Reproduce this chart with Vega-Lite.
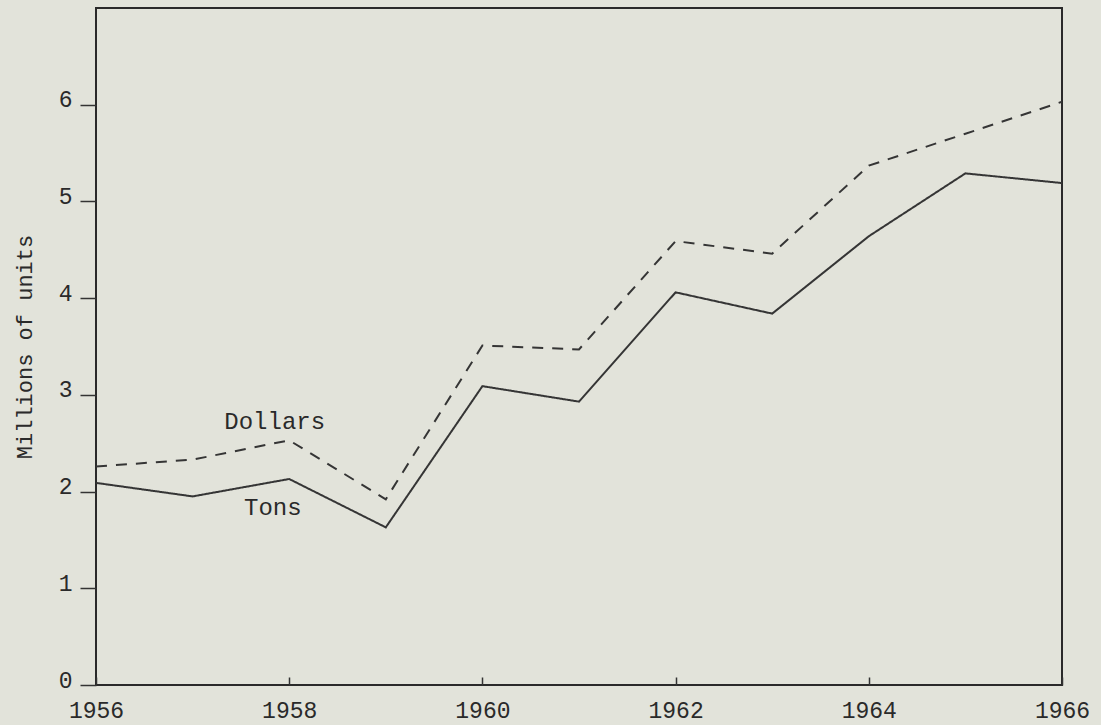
{
  "$schema": "https://vega.github.io/schema/vega-lite/v6.json",
  "autosize": "none",
  "width": 966,
  "height": 677,
  "padding": {"left": 96, "top": 8, "right": 39, "bottom": 40},
  "background": "#e2e3da",
  "config": {
    "view": {"stroke": "#2a2a2a", "strokeWidth": 2},
    "font": "Liberation Mono"
  },
  "datasets": {
    "series": [
      {"year": 1956, "value": 2.09, "series": "Tons"},
      {"year": 1957, "value": 1.95, "series": "Tons"},
      {"year": 1958, "value": 2.13, "series": "Tons"},
      {"year": 1959, "value": 1.63, "series": "Tons"},
      {"year": 1960, "value": 3.09, "series": "Tons"},
      {"year": 1961, "value": 2.93, "series": "Tons"},
      {"year": 1962, "value": 4.06, "series": "Tons"},
      {"year": 1963, "value": 3.84, "series": "Tons"},
      {"year": 1964, "value": 4.64, "series": "Tons"},
      {"year": 1965, "value": 5.29, "series": "Tons"},
      {"year": 1966, "value": 5.19, "series": "Tons"},
      {"year": 1956, "value": 2.26, "series": "Dollars"},
      {"year": 1957, "value": 2.33, "series": "Dollars"},
      {"year": 1958, "value": 2.53, "series": "Dollars"},
      {"year": 1959, "value": 1.92, "series": "Dollars"},
      {"year": 1960, "value": 3.51, "series": "Dollars"},
      {"year": 1961, "value": 3.47, "series": "Dollars"},
      {"year": 1962, "value": 4.59, "series": "Dollars"},
      {"year": 1963, "value": 4.46, "series": "Dollars"},
      {"year": 1964, "value": 5.37, "series": "Dollars"},
      {"year": 1965, "value": 5.70, "series": "Dollars"},
      {"year": 1966, "value": 6.03, "series": "Dollars"}
    ],
    "labels": [
      {"year": 1957.85, "value": 2.72, "label": "Dollars"},
      {"year": 1957.83, "value": 1.83, "label": "Tons"}
    ]
  },
  "layer": [
    {
      "data": {"name": "series"},
      "mark": {"type": "line", "color": "#353535", "strokeWidth": 2},
      "encoding": {
        "x": {
          "field": "year", "type": "quantitative",
          "scale": {"domain": [1956, 1966], "nice": false, "zero": false},
          "axis": {
            "values": [1956, 1958, 1960, 1962, 1964, 1966],
            "format": "d", "title": null, "grid": false, "domain": false,
            "ticks": true, "tickSize": -8, "tickColor": "#333333", "tickWidth": 1.5,
            "labelFont": "Liberation Mono", "labelFontSize": 23, "labelColor": "#2a2a2a",
            "labelPadding": 22, "labelFlush": false, "labelBaseline": "top"
          }
        },
        "y": {
          "field": "value", "type": "quantitative",
          "scale": {"domain": [0, 7], "nice": false},
          "axis": {
            "values": [0, 1, 2, 3, 4, 5, 6],
            "format": "d",
            "title": "Millions of units", "grid": false, "domain": false,
            "ticks": true, "tickSize": 16, "tickColor": "#333333", "tickWidth": 1.5,
            "labelFont": "Liberation Mono", "labelFontSize": 23, "labelColor": "#2a2a2a",
            "labelPadding": 8, "labelBaseline": "alphabetic", "labelOffset": 2,
            "titleFont": "Liberation Mono", "titleFontSize": 22, "titleFontWeight": "normal",
            "titleColor": "#2a2a2a", "titlePadding": 22
          }
        },
        "strokeDash": {
          "field": "series", "type": "nominal",
          "scale": {"domain": ["Tons", "Dollars"], "range": [[1, 0], [11, 9]]},
          "legend": null
        },
        "detail": {"field": "series"}
      }
    },
    {
      "data": {"name": "labels"},
      "mark": {"type": "text", "font": "Liberation Mono", "fontSize": 24, "color": "#2a2a2a", "align": "center", "baseline": "middle"},
      "encoding": {
        "x": {"field": "year", "type": "quantitative"},
        "y": {"field": "value", "type": "quantitative"},
        "text": {"field": "label"}
      }
    }
  ]
}
